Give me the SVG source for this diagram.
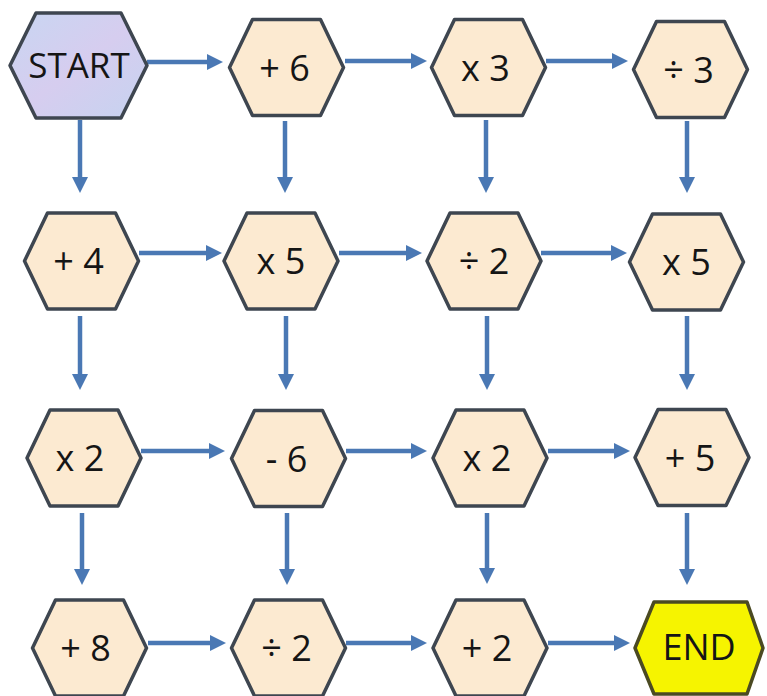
<svg xmlns="http://www.w3.org/2000/svg" xmlns:xlink="http://www.w3.org/1999/xlink" width="767" height="696" viewBox="0 0 767 696">
<style>
  .op { fill: #fcead1; stroke: #3e4650; stroke-width: 3.5; stroke-linejoin: round; }
  .start { fill: url(#startGrad); stroke: #3e4650; stroke-width: 3.5; stroke-linejoin: round; }
  .end { fill: #f6f400; stroke: #4b4a22; stroke-width: 3.5; stroke-linejoin: round; }
  .lbl { font-family: "Open Sans", "Liberation Sans", sans-serif; font-size: 36px; fill: #151515; text-anchor: middle; }
  .conn line { stroke: #4a78b4; stroke-width: 4.5; marker-end: url(#ah); }
</style>
<defs>
  <linearGradient id="startGrad" x1="0" y1="0" x2="1" y2="1">
    <stop offset="0" stop-color="#c8d6f2"/>
    <stop offset="0.5" stop-color="#d6cdef"/>
    <stop offset="1" stop-color="#c6d3f0"/>
  </linearGradient>
  <polygon id="hex" points="-57,0 -34,-48 34,-48 57,0 34,48 -34,48"/>
  <marker id="ah" markerUnits="userSpaceOnUse" markerWidth="17" markerHeight="17" refX="3" refY="8" orient="auto">
    <path d="M0,0 L16,8 L0,16 z" fill="#4a78b4"/>
  </marker>
</defs>
<rect width="767" height="696" fill="#ffffff"/>

<g class="conn">
  <line x1="147" y1="62" x2="210" y2="62"/>
  <line x1="345" y1="61" x2="414" y2="61"/>
  <line x1="546" y1="61" x2="615" y2="61"/>
  <line x1="139" y1="253" x2="209" y2="253"/>
  <line x1="339" y1="253" x2="409" y2="253"/>
  <line x1="541" y1="253" x2="614" y2="253"/>
  <line x1="141" y1="451" x2="212" y2="451"/>
  <line x1="346" y1="451" x2="414" y2="451"/>
  <line x1="548" y1="451" x2="617" y2="451"/>
  <line x1="148" y1="643" x2="213" y2="643"/>
  <line x1="346" y1="643" x2="414" y2="643"/>
  <line x1="548" y1="643" x2="617" y2="643"/>

  <line x1="80" y1="120" x2="80" y2="180"/>
  <line x1="285" y1="121" x2="285" y2="180"/>
  <line x1="486" y1="120" x2="486" y2="180"/>
  <line x1="687" y1="121" x2="687" y2="180"/>
  <line x1="80" y1="316" x2="80" y2="377"/>
  <line x1="286" y1="316" x2="286" y2="377"/>
  <line x1="487" y1="316" x2="487" y2="377"/>
  <line x1="687" y1="316" x2="687" y2="377"/>
  <line x1="82" y1="513" x2="82" y2="572"/>
  <line x1="287" y1="513" x2="287" y2="572"/>
  <line x1="487" y1="513" x2="487" y2="571"/>
  <line x1="687" y1="513" x2="687" y2="572"/>
</g>

<g id="n-start">
  <polygon class="start" points="10,65.5 36,13 121,13 147,65.5 121,118 36,118"/>
  <text class="lbl" x="79" y="78" style="font-size:35px">START</text>
</g>
<g id="n-plus6" transform="translate(286.5,67.5)">
  <use xlink:href="#hex" class="op"/>
  <text class="lbl" x="-2" y="13">+ 6</text>
</g>
<g id="n-times3" transform="translate(488.5,67.5)">
  <use xlink:href="#hex" class="op"/>
  <text class="lbl" x="-3" y="13">x 3</text>
</g>
<g id="n-div3" transform="translate(690.5,69.5)">
  <use xlink:href="#hex" class="op"/>
  <text class="lbl" x="-2" y="13">÷ 3</text>
</g>

<g id="n-plus4" transform="translate(81.5,261)">
  <use xlink:href="#hex" class="op"/>
  <text class="lbl" x="-3" y="13">+ 4</text>
</g>
<g id="n-times5a" transform="translate(281,261)">
  <use xlink:href="#hex" class="op"/>
  <text class="lbl" x="0" y="13">x 5</text>
</g>
<g id="n-div2a" transform="translate(484,261)">
  <use xlink:href="#hex" class="op"/>
  <text class="lbl" x="0" y="13">÷ 2</text>
</g>
<g id="n-times5b" transform="translate(686.5,262)">
  <use xlink:href="#hex" class="op"/>
  <text class="lbl" x="0" y="13">x 5</text>
</g>

<g id="n-times2a" transform="translate(84,458)">
  <use xlink:href="#hex" class="op"/>
  <text class="lbl" x="-4" y="13">x 2</text>
</g>
<g id="n-minus6" transform="translate(288.5,458.5)">
  <use xlink:href="#hex" class="op"/>
  <text class="lbl" x="-2" y="13">- 6</text>
</g>
<g id="n-times2b" transform="translate(490,458)">
  <use xlink:href="#hex" class="op"/>
  <text class="lbl" x="-3" y="13">x 2</text>
</g>
<g id="n-plus5" transform="translate(692,457.5)">
  <use xlink:href="#hex" class="op"/>
  <text class="lbl" x="-2" y="13">+ 5</text>
</g>

<g id="n-plus8" transform="translate(89.5,648)">
  <use xlink:href="#hex" class="op"/>
  <text class="lbl" x="-4" y="13">+ 8</text>
</g>
<g id="n-div2b" transform="translate(288.5,648)">
  <use xlink:href="#hex" class="op"/>
  <text class="lbl" x="-2" y="13">÷ 2</text>
</g>
<g id="n-plus2" transform="translate(490,648)">
  <use xlink:href="#hex" class="op"/>
  <text class="lbl" x="-3" y="13">+ 2</text>
</g>
<g id="n-end">
  <polygon class="end" points="635,648 654,602 747,602 763,648 747,694 654,694"/>
  <text class="lbl" x="699" y="660">END</text>
</g>
</svg>
